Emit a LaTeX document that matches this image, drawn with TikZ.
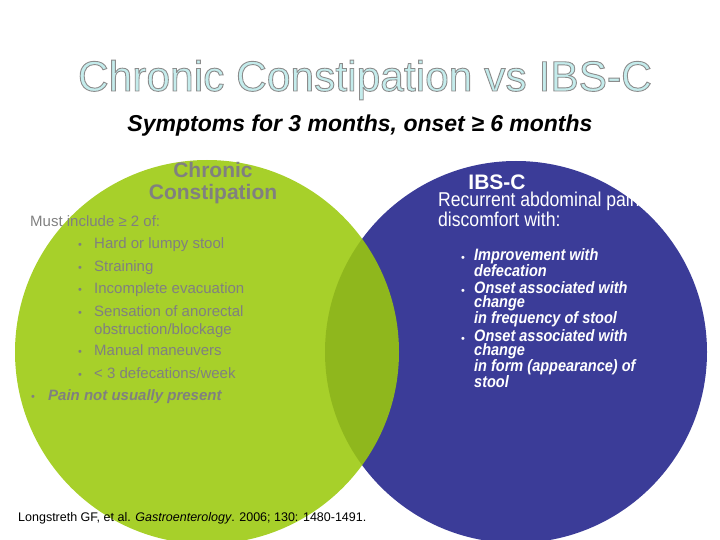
\documentclass[tikz,border=0pt]{standalone}
\usepackage{fontspec}
\setmainfont{Liberation Sans}
\newfontfamily\narrowf[FakeStretch=0.88]{Liberation Sans}
\definecolor{cgreen}{HTML}{9BC90C}
\definecolor{cblue}{HTML}{3B3C98}
\definecolor{cgray}{HTML}{808080}
\definecolor{ccyan}{HTML}{C4ECEC}
\begin{document}
\begin{tikzpicture}[x=1pt,y=-1pt,
  lt/.style={anchor=base west,inner sep=0pt,text=cgray,font=\fontsize{15}{17}\selectfont},
  rt/.style={anchor=north west,inner sep=0pt,text=white,align=left,font=\narrowf\bfseries\itshape\fontsize{16.5}{14}\selectfont},
  bl/.style={anchor=base,inner sep=0pt,font=\fontsize{11}{13}\selectfont}]
\useasboundingbox (0,0) rectangle (720,540);
\begin{scope}
\clip (0,0) rectangle (720,540);
\fill[cblue] (516,352) circle (191);
\fill[cgreen,opacity=0.88] (207,352) circle (192);
\end{scope}
\node[anchor=base,inner sep=0pt,text=ccyan,font=\fontsize{42.5}{44}\selectfont] (title) at (365,91)
  {\special{pdf:literal 2 Tr 0.55 0.55 0.55 RG 0.9 w}Chronic Constipation vs IBS-C\special{pdf:literal 0 Tr}};
\node[anchor=base,inner sep=0pt,font=\bfseries\itshape\fontsize{23}{26}\selectfont] (sub) at (360,132) {Symptoms for 3 months, onset ≥ 6 months};
\node[anchor=north,inner sep=0pt,text=cgray,align=center,font=\bfseries\fontsize{21}{22}\selectfont] (cc) at (213,162) {Chronic\\Constipation};
\node[lt] (must) at (30,226) {Must include ≥ 2 of:};
\foreach \yy/\t [count=\i] in {248/{Hard or lumpy stool},271/{Straining},293/{Incomplete evacuation},316/{Sensation of anorectal},355/{Manual maneuvers},378/{< 3 defecations/week}}{
  \node[bl,text=cgray] (lb\i) at (80,\yy) {•};
  \node[lt] (lt\i) at (94,\yy) {\t};
}
\node[lt] (lt7) at (94,334) {obstruction/blockage};
\node[bl,text=cgray] (lb8) at (33,400) {•};
\node[lt,font=\bfseries\itshape\fontsize{15}{17}\selectfont] (lt8) at (48,400) {Pain not usually present};
\node[anchor=base,inner sep=0pt,text=white,font=\bfseries\fontsize{21}{22}\selectfont] (ibs) at (497,190) {IBS-C};
\node[anchor=north west,inner sep=0pt,text=white,align=left,font=\narrowf\fontsize{20}{16}\selectfont] (rec) at (438,192) {Recurrent abdominal pain or\\discomfort with:};
\node[bl,text=white] (rb1) at (463,261) {•};
\node[rt] (r1) at (474,248) {Improvement with\\defecation};
\node[bl,text=white] (rb2) at (463,294) {•};
\node[rt] (r2) at (474,281) {Onset associated with\\change\\in frequency of stool};
\node[bl,text=white] (rb3) at (463,342) {•};
\node[rt] (r3) at (474,329) {Onset associated with\\change\\in form (appearance) of\\stool};
\node[anchor=base west,inner sep=0pt,font=\fontsize{12.5}{14}\selectfont] (ref) at (18,521) {Longstreth GF, et al. \textit{Gastroenterology}. 2006; 130: 1480-1491.};
\end{tikzpicture}
\end{document}
